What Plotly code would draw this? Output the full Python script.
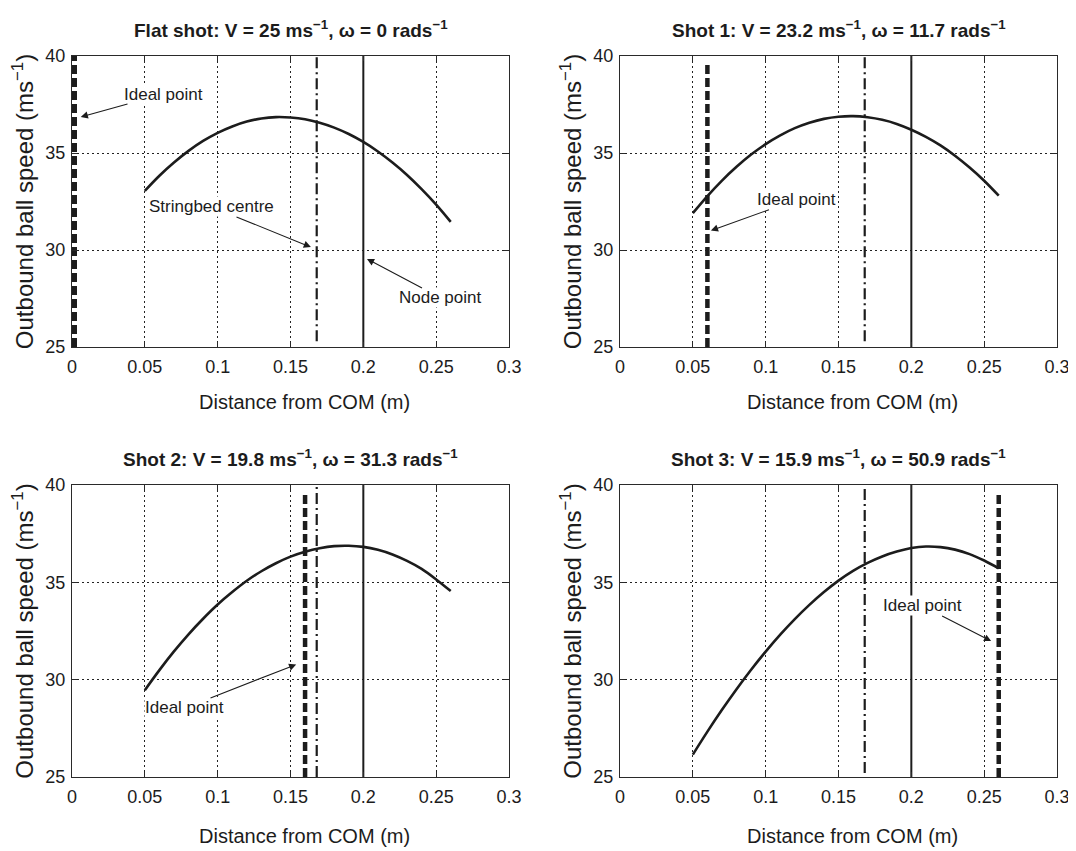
import plotly.graph_objects as go

# ---------------- data ----------------
distance = [0.05, 0.06, 0.07, 0.08, 0.09, 0.10, 0.11, 0.12, 0.13, 0.14, 0.15,
            0.16, 0.17, 0.18, 0.19, 0.20, 0.21, 0.22, 0.23, 0.24, 0.25, 0.26]

speed_flat = [33.05, 33.83, 34.51, 35.11, 35.62, 36.04, 36.37, 36.62, 36.78, 36.85, 36.83,
              36.74, 36.56, 36.31, 35.98, 35.57, 35.08, 34.51, 33.87, 33.14, 32.34, 31.45]
speed_shot1 = [31.90, 32.78, 33.58, 34.29, 34.92, 35.46, 35.91, 36.28, 36.56, 36.76, 36.87,
               36.90, 36.84, 36.71, 36.50, 36.20, 35.83, 35.39, 34.86, 34.25, 33.57, 32.80]
speed_shot2 = [29.46, 30.49, 31.45, 32.33, 33.13, 33.86, 34.50, 35.08, 35.57, 35.98, 36.32,
               36.57, 36.75, 36.86, 36.88, 36.82, 36.67, 36.43, 36.10, 35.69, 35.15, 34.55]
speed_shot3 = [26.15, 27.33, 28.45, 29.51, 30.51, 31.44, 32.31, 33.11, 33.84, 34.50, 35.09,
               35.59, 36.00, 36.33, 36.58, 36.76, 36.84, 36.81, 36.68, 36.45, 36.12, 35.72]

panel_titles = [
    "Flat shot: V = 25 ms<sup>−1</sup>, ω = 0 rads<sup>−1</sup>",
    "Shot 1: V = 23.2 ms<sup>−1</sup>, ω = 11.7 rads<sup>−1</sup>",
    "Shot 2: V = 19.8 ms<sup>−1</sup>, ω = 31.3 rads<sup>−1</sup>",
    "Shot 3: V = 15.9 ms<sup>−1</sup>, ω = 50.9 rads<sup>−1</sup>",
]
x_title = "Distance from COM (m)"
y_title = "Outbound ball speed (ms<sup>−1</sup>)"

ideal_x = [0.0, 0.06, 0.16, 0.26]
ideal_top = [40.0, 39.6, 39.6, 39.6]
stringbed_x = 0.168
stringbed_bottom = [25.3, 25.3, 25.0, 25.2]
node_x = 0.2
speed_min, speed_max = 25, 40

x_ticks = [0, 0.05, 0.1, 0.15, 0.2, 0.25, 0.3]
x_tick_labels = ["0", "0.05", "0.1", "0.15", "0.2", "0.25", "0.3"]
y_ticks = [25, 30, 35, 40]

speeds = [speed_flat, speed_shot1, speed_shot2, speed_shot3]

# ---------------- figure ----------------
FONT = "Liberation Sans, Arial, Helvetica, sans-serif"
INK = "#1c1c1c"

OFF = 8                      # page body margin
W, H = 1068, 843


def px_x(v):
    return (v - OFF) / W


def px_y(v):
    return 1 - (v - OFF) / H


# plot-area boxes in page pixels: left, right, top, bottom
boxes = [(72, 509, 56, 347), (620, 1057, 56, 347), (72, 509, 485, 777), (620, 1057, 485, 777)]
xtitle_y = [402, 402, 836, 836]

fig = go.Figure()

for i in range(4):
    sfx = "" if i == 0 else str(i + 1)
    xa, ya = "x" + sfx, "y" + sfx
    fig.add_trace(go.Scatter(x=[ideal_x[i], ideal_x[i]], y=[speed_min, ideal_top[i]],
                             mode="lines", xaxis=xa, yaxis=ya, showlegend=False,
                             line=dict(color=INK, width=10 if ideal_x[i] == 0 else 4.5,
                                       dash="9px,4px")))
    fig.add_trace(go.Scatter(x=[stringbed_x, stringbed_x], y=[stringbed_bottom[i], speed_max],
                             mode="lines", xaxis=xa, yaxis=ya, showlegend=False,
                             line=dict(color=INK, width=2.2, dash="11px,4px,2px,4px")))
    fig.add_trace(go.Scatter(x=[node_x, node_x], y=[speed_min, speed_max],
                             mode="lines", xaxis=xa, yaxis=ya, showlegend=False,
                             line=dict(color=INK, width=2)))
    fig.add_trace(go.Scatter(x=distance, y=speeds[i], mode="lines", xaxis=xa, yaxis=ya,
                             showlegend=False, line=dict(color=INK, width=2.6, shape="spline")))

axis_common = dict(
    showline=True, linecolor="#2a2a2a", linewidth=1.2, mirror="ticks",
    ticks="inside", ticklen=5, tickcolor="#2a2a2a",
    showgrid=True, gridcolor="#222222", gridwidth=1, griddash="2px,3px",
    zeroline=False, automargin=False, ticklabeloverflow="allow",
    tickfont=dict(family=FONT, size=18, color=INK),
)

layout = dict(
    width=W, height=H,
    margin=dict(l=0, r=0, t=0, b=0),
    paper_bgcolor="white", plot_bgcolor="white",
    font=dict(family=FONT, size=18, color=INK),
    showlegend=False,
)

for i in range(4):
    sfx = "" if i == 0 else str(i + 1)
    l, r, t, b = boxes[i]
    layout["xaxis" + sfx] = dict(
        axis_common, domain=[px_x(l), px_x(r)], range=[0, 0.3], anchor="y" + sfx,
        tickvals=x_ticks, ticktext=x_tick_labels, ticklabelstandoff=3,
    )
    layout["yaxis" + sfx] = dict(
        axis_common, domain=[px_y(b), px_y(t)], range=[25, 40], anchor="x" + sfx,
        tickvals=y_ticks, ticklabelstandoff=2,
        title=dict(text=y_title, font=dict(family=FONT, size=24, color=INK), standoff=4),
    )

fig.update_layout(**layout)

annots = []
for i in range(4):
    l, r, t, b = boxes[i]
    annots.append(dict(
        text="<b>" + panel_titles[i] + "</b>", xref="paper", yref="paper",
        x=px_x((l + r) / 2), y=px_y(t - 27),
        xanchor="center", yanchor="middle", showarrow=False,
        font=dict(family=FONT, size=19, color=INK),
    ))
    annots.append(dict(
        text=x_title, xref="paper", yref="paper",
        x=px_x((l + r) / 2 + 14), y=px_y(xtitle_y[i]),
        xanchor="center", yanchor="middle", showarrow=False,
        font=dict(family=FONT, size=20, color=INK),
    ))

callouts = [
    (0, "Ideal point", 0.006, 36.86, 0.063, 38.04),
    (0, "Stringbed centre", 0.164, 30.15, 0.096, 32.22),
    (0, "Node point", 0.2025, 29.54, 0.2533, 27.53),
    (1, "Ideal point", 0.0624, 31.0, 0.1214, 32.59),
    (2, "Ideal point", 0.1539, 30.78, 0.0775, 28.55),
    (3, "Ideal point", 0.2548, 31.98, 0.2078, 33.79),
]
for (p, txt, hx, hy, tx, ty) in callouts:
    sfx = "" if p == 0 else str(p + 1)
    annots.append(dict(
        text=txt, xref="x" + sfx, yref="y" + sfx, x=hx, y=hy,
        axref="x" + sfx, ayref="y" + sfx, ax=tx, ay=ty,
        showarrow=True, arrowhead=2, arrowsize=1.3, arrowwidth=1.1, arrowcolor=INK,
        standoff=0, startstandoff=0, bgcolor="white", borderpad=0,
        font=dict(family=FONT, size=17, color=INK),
    ))

fig.update_layout(annotations=annots)

fig.write_html("out.html")
